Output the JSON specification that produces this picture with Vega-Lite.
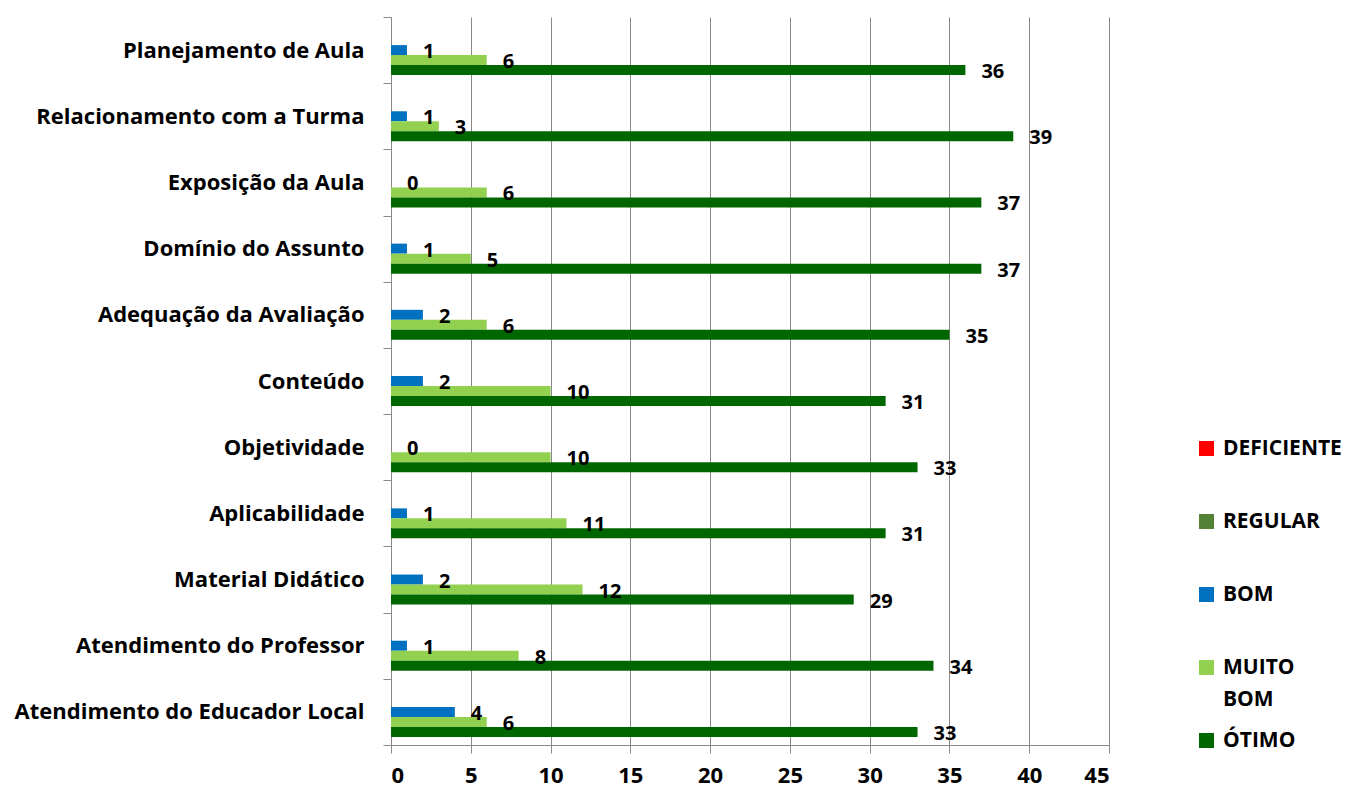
{
  "$schema": "https://vega.github.io/schema/vega-lite/v6.json",
  "width": 718,
  "height": 728,
  "autosize": {"type": "none"},
  "padding": {"left": 391, "top": 17, "right": 237, "bottom": 48},
  "config": {
    "view": {"stroke": null},
    "font": "Open Sans",
    "style": {"guide-label": {"lineHeight": 32}}
  },
  "data": {
    "values": [
      {"cat": "Planejamento de Aula", "s": "BOM", "v": 1},
      {"cat": "Planejamento de Aula", "s": "MUITO BOM", "v": 6},
      {"cat": "Planejamento de Aula", "s": "ÓTIMO", "v": 36},
      {"cat": "Relacionamento com a Turma", "s": "BOM", "v": 1},
      {"cat": "Relacionamento com a Turma", "s": "MUITO BOM", "v": 3},
      {"cat": "Relacionamento com a Turma", "s": "ÓTIMO", "v": 39},
      {"cat": "Exposição da Aula", "s": "BOM", "v": 0},
      {"cat": "Exposição da Aula", "s": "MUITO BOM", "v": 6},
      {"cat": "Exposição da Aula", "s": "ÓTIMO", "v": 37},
      {"cat": "Domínio do Assunto", "s": "BOM", "v": 1},
      {"cat": "Domínio do Assunto", "s": "MUITO BOM", "v": 5},
      {"cat": "Domínio do Assunto", "s": "ÓTIMO", "v": 37},
      {"cat": "Adequação da Avaliação", "s": "BOM", "v": 2},
      {"cat": "Adequação da Avaliação", "s": "MUITO BOM", "v": 6},
      {"cat": "Adequação da Avaliação", "s": "ÓTIMO", "v": 35},
      {"cat": "Conteúdo", "s": "BOM", "v": 2},
      {"cat": "Conteúdo", "s": "MUITO BOM", "v": 10},
      {"cat": "Conteúdo", "s": "ÓTIMO", "v": 31},
      {"cat": "Objetividade", "s": "BOM", "v": 0},
      {"cat": "Objetividade", "s": "MUITO BOM", "v": 10},
      {"cat": "Objetividade", "s": "ÓTIMO", "v": 33},
      {"cat": "Aplicabilidade", "s": "BOM", "v": 1},
      {"cat": "Aplicabilidade", "s": "MUITO BOM", "v": 11},
      {"cat": "Aplicabilidade", "s": "ÓTIMO", "v": 31},
      {"cat": "Material Didático", "s": "BOM", "v": 2},
      {"cat": "Material Didático", "s": "MUITO BOM", "v": 12},
      {"cat": "Material Didático", "s": "ÓTIMO", "v": 29},
      {"cat": "Atendimento do Professor", "s": "BOM", "v": 1},
      {"cat": "Atendimento do Professor", "s": "MUITO BOM", "v": 8},
      {"cat": "Atendimento do Professor", "s": "ÓTIMO", "v": 34},
      {"cat": "Atendimento do Educador Local", "s": "BOM", "v": 4},
      {"cat": "Atendimento do Educador Local", "s": "MUITO BOM", "v": 6},
      {"cat": "Atendimento do Educador Local", "s": "ÓTIMO", "v": 33}
    ]
  },
  "encoding": {
    "y": {
      "field": "cat",
      "type": "nominal",
      "sort": ["Planejamento de Aula", "Relacionamento com a Turma", "Exposição da Aula", "Domínio do Assunto", "Adequação da Avaliação", "Conteúdo", "Objetividade", "Aplicabilidade", "Material Didático", "Atendimento do Professor", "Atendimento do Educador Local"],
      "scale": {"paddingInner": 0, "paddingOuter": 0},
      "axis": {
        "title": null,
        "tickBand": "extent",
        "tickSize": 8,
        "tickColor": "#888888",
        "domainColor": "#888888",
        "labelPadding": 19,
        "labelFont": "Open Sans",
        "labelFontSize": 22,
        "labelFontWeight": "bold",
        "labelColor": "#000000",
        "labelLimit": 400,
        "grid": false
      }
    },
    "x": {
      "field": "v",
      "type": "quantitative",
      "scale": {"domain": [0, 45], "nice": false},
      "axis": {
        "title": null,
        "values": [0, 5, 10, 15, 20, 25, 30, 35, 40, 45],
        "grid": true,
        "gridColor": "#888888",
        "gridOpacity": 1,
        "tickSize": 8,
        "tickColor": "#888888",
        "domainColor": "#888888",
        "labelPadding": 12,
        "labelFont": "Open Sans",
        "labelFontSize": 22,
        "labelFontWeight": "bold",
        "labelColor": "#000000"
      }
    },
    "yOffset": {
      "field": "s",
      "scale": {"domain": ["DEFICIENTE", "REGULAR", "BOM", "MUITO BOM", "ÓTIMO"], "paddingInner": 0, "paddingOuter": 0.809}
    }
  },
  "layer": [
    {
      "mark": {"type": "bar"},
      "encoding": {
        "color": {
          "field": "s",
          "type": "nominal",
          "scale": {
            "domain": ["DEFICIENTE", "REGULAR", "BOM", "MUITO BOM", "ÓTIMO"],
            "range": ["#FF0000", "#538135", "#0070C0", "#92D050", "#006600"]
          },
          "legend": {
            "orient": "none",
            "legendX": 805,
            "legendY": 421,
            "title": null,
            "padding": 0,
            "symbolType": "square",
            "symbolSize": 225,
            "symbolStrokeWidth": 0,
            "labelFont": "Open Sans",
            "labelFontSize": 21,
            "labelFontWeight": "bold",
            "labelColor": "#000000",
            "labelOffset": 6,
            "labelLimit": 300,
            "gridAlign": "all",
            "rowPadding": 19,
            "labelExpr": "datum.label == 'MUITO BOM' ? ['MUITO', 'BOM'] : datum.label"
          }
        }
      }
    },
    {
      "mark": {"type": "text", "align": "left", "baseline": "middle", "dx": 16, "dy": 2, "font": "Open Sans", "fontSize": 20, "fontWeight": "bold", "color": "#000000"},
      "encoding": {
        "text": {"field": "v", "type": "quantitative"}
      }
    }
  ]
}
